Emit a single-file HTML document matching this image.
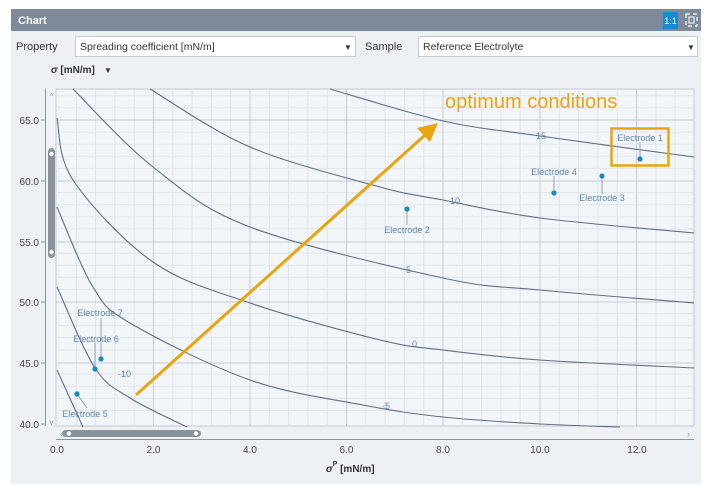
<!DOCTYPE html>
<html><head><meta charset="utf-8"><style>
html,body{margin:0;padding:0;background:#fff;}
body{width:717px;height:489px;overflow:hidden;font-family:"Liberation Sans",sans-serif;}
</style></head><body>
<svg width="717" height="489" viewBox="0 0 717 489" xmlns="http://www.w3.org/2000/svg" font-family="Liberation Sans, sans-serif">
<rect x="0" y="0" width="717" height="489" fill="#fff"/>
<rect x="11" y="9" width="690" height="475" fill="#eef1f4"/>
<rect x="11" y="9" width="690" height="22" fill="#7e8a99"/>
<text x="18" y="24" font-size="11" font-weight="bold" fill="#fff">Chart</text>
<rect x="663" y="12" width="15" height="17" fill="#1a8ad4"/>
<text x="670.5" y="24" font-size="9" fill="#fff" text-anchor="middle">1:1</text>
<rect x="686" y="14" width="11" height="12" fill="none" stroke="#e8ecf0" stroke-width="1.5" stroke-dasharray="4 3"/>
<rect x="689" y="17" width="5" height="6" fill="none" stroke="#e8ecf0" stroke-width="1.2"/>
<text x="16" y="50" font-size="11" fill="#333">Property</text>
<rect x="75.5" y="36.5" width="280" height="20" fill="#fff" stroke="#c8ccd2"/>
<text x="80" y="50" font-size="10.5" fill="#333">Spreading coefficient  [mN/m]</text>
<text x="344" y="50" font-size="8" fill="#333">▼</text>
<text x="365" y="50" font-size="11" fill="#333">Sample</text>
<rect x="418.5" y="36.5" width="279" height="20" fill="#fff" stroke="#c8ccd2"/>
<text x="423" y="50" font-size="10.5" fill="#333">Reference Electrolyte</text>
<text x="687" y="50" font-size="8" fill="#333">▼</text>
<text x="51" y="73" font-size="10" font-weight="bold" fill="#333"><tspan font-style="italic">σ</tspan>  [mN/m]</text>
<text x="104" y="73" font-size="8" fill="#333">▼</text>
<rect x="56" y="89" width="638" height="337" fill="#f3f6f9" stroke="#c5cad1"/>
<g stroke="#e0e5eb" stroke-width="1">
<path d="M76.3 89V426M95.6 89V426M114.9 89V426M134.2 89V426M172.8 89V426M192.1 89V426M211.4 89V426M230.7 89V426M269.3 89V426M288.6 89V426M307.9 89V426M327.2 89V426M365.8 89V426M385.1 89V426M404.4 89V426M423.7 89V426M462.3 89V426M481.6 89V426M500.9 89V426M520.2 89V426M559.3 89V426M578.6 89V426M597.9 89V426M617.2 89V426M656 89V426M675 89V426"/>
<path d="M56 95.8H694M56 107.9H694M56 132.1H694M56 144.2H694M56 156.3H694M56 168.4H694M56 192.6H694M56 204.7H694M56 216.8H694M56 228.9H694M56 253.1H694M56 265.2H694M56 277.3H694M56 289.4H694M56 313.6H694M56 325.7H694M56 337.8H694M56 349.9H694M56 374.1H694M56 386.2H694M56 398.3H694M56 410.4H694"/>
</g>
<g stroke="#c6ccd4" stroke-width="1">
<path d="M153.5 89V426M250 89V426M346.5 89V426M443 89V426M540 89V426M636.6 89V426"/>
<path d="M56 120H694M56 181H694M56 242H694M56 302H694M56 363H694"/>
</g>
<g id="curves" fill="none" stroke="#5f6f86" stroke-width="1.1"></g>
<g font-size="9" fill="#5f86b0">
<text x="536" y="139">15</text><text x="450" y="204">10</text><text x="406" y="273">5</text><text x="412" y="347">0</text><text x="382" y="409">-5</text><text x="118" y="377">-10</text>
</g>
<g stroke="#7a90a8" stroke-width="0.8">
<path d="M640 159V142M554 193V176M602 176V194M407 209V225M101 359V318M95 369V343M77 394L87 408"/>
</g>
<g fill="#1a8ab8">
<circle cx="640" cy="159" r="2.6"/><circle cx="554" cy="193" r="2.6"/><circle cx="602" cy="176" r="2.6"/><circle cx="407" cy="209" r="2.6"/><circle cx="101" cy="359" r="2.6"/><circle cx="95" cy="369" r="2.6"/><circle cx="77" cy="394" r="2.6"/>
</g>
<g font-size="9" fill="#5f86b0" text-anchor="middle">
<text x="640" y="141">Electrode 1</text><text x="554" y="175">Electrode 4</text><text x="602" y="201">Electrode 3</text><text x="407" y="233">Electrode 2</text><text x="100" y="316">Electrode 7</text><text x="96" y="342">Electrode 6</text><text x="85" y="417">Electrode 5</text>
</g>
<rect x="611.5" y="128.5" width="57" height="37" fill="none" stroke="#e8a510" stroke-width="2.5"/>
<line x1="136" y1="395" x2="425" y2="135" stroke="#e8a510" stroke-width="3"/>
<polygon points="438,123 417,128 430,142" fill="#e8a510"/>
<text x="445" y="108" font-size="20" fill="#e8a510">optimum conditions</text>
<line x1="45.5" y1="89" x2="45.5" y2="426" stroke="#8a949e"/>
<g stroke="#8a949e"><path d="M41 120H45M41 181H45M41 242H45M41 302H45M41 363H45M41 424H45"/></g>
<g font-size="10" fill="#444" text-anchor="end">
<text x="39" y="124">65.0</text><text x="39" y="185">60.0</text><text x="39" y="246">55.0</text><text x="39" y="306">50.0</text><text x="39" y="367">45.0</text><text x="39" y="428">40.0</text>
</g>
<rect x="47" y="89" width="8" height="337" fill="#eef2f7"/>
<rect x="48" y="148" width="7" height="110" rx="3.5" fill="#8a939c"/>
<circle cx="51.5" cy="154" r="2.2" fill="#fff"/><circle cx="51.5" cy="252" r="2.2" fill="#fff"/>
<text x="51.5" y="99" font-size="8" fill="#8a939c" text-anchor="middle">^</text>
<text x="51.5" y="425" font-size="8" fill="#8a939c" text-anchor="middle">v</text>
<rect x="56" y="429" width="638" height="8" fill="#eef2f7"/>
<rect x="62" y="430" width="139" height="7" rx="3.5" fill="#8a939c"/>
<circle cx="69" cy="433.5" r="2.2" fill="#fff"/><circle cx="196" cy="433.5" r="2.2" fill="#fff"/>
<text x="60" y="437" font-size="9" fill="#8a939c">«</text>
<text x="687" y="437" font-size="9" fill="#8a939c">›</text>
<line x1="56" y1="439.5" x2="694" y2="439.5" stroke="#8a949e"/>
<g font-size="10" fill="#444" text-anchor="middle">
<text x="57" y="453">0.0</text><text x="153.5" y="453">2.0</text><text x="250" y="453">4.0</text><text x="346.5" y="453">6.0</text><text x="443" y="453">8.0</text><text x="540" y="453">10.0</text><text x="637" y="453">12.0</text>
</g>
<text x="326" y="472" font-size="10" font-weight="bold" fill="#333"><tspan font-style="italic">σ</tspan><tspan dy="-6" font-size="7">P</tspan><tspan dy="6">   [mN/m]</tspan></text>
</svg>
<script>
var C=[
[[330,89],[443,121],[540,136],[694,157]],
[[150,89],[250,147],[380,187],[443,200],[540,218],[694,233]],
[[73,89],[153,167],[250,227],[443,278],[540,290],[694,303]],
[[57,118],[73,180],[153,262],[250,303],[380,340],[443,350],[540,360],[694,368]],
[[57,207],[93,287],[130,323],[250,380],[363,405],[443,417],[540,424],[620,427]],
[[57,287],[95,368],[130,398],[187,427]],
[[57,370],[83,427]]];
var g=document.getElementById('curves');
C.forEach(function(p){
 var d='M'+p[0][0]+' '+p[0][1];
 for(var i=0;i<p.length-1;i++){
  var p0=p[i-1]||p[i],p1=p[i],p2=p[i+1],p3=p[i+2]||p2;
  var c1=[p1[0]+(p2[0]-p0[0])/6,p1[1]+(p2[1]-p0[1])/6];
  var c2=[p2[0]-(p3[0]-p1[0])/6,p2[1]-(p3[1]-p1[1])/6];
  d+=' C'+c1.join(' ')+' '+c2.join(' ')+' '+p2.join(' ');
 }
 var e=document.createElementNS('http://www.w3.org/2000/svg','path');
 e.setAttribute('d',d);g.appendChild(e);
});
</script>
</body></html>
